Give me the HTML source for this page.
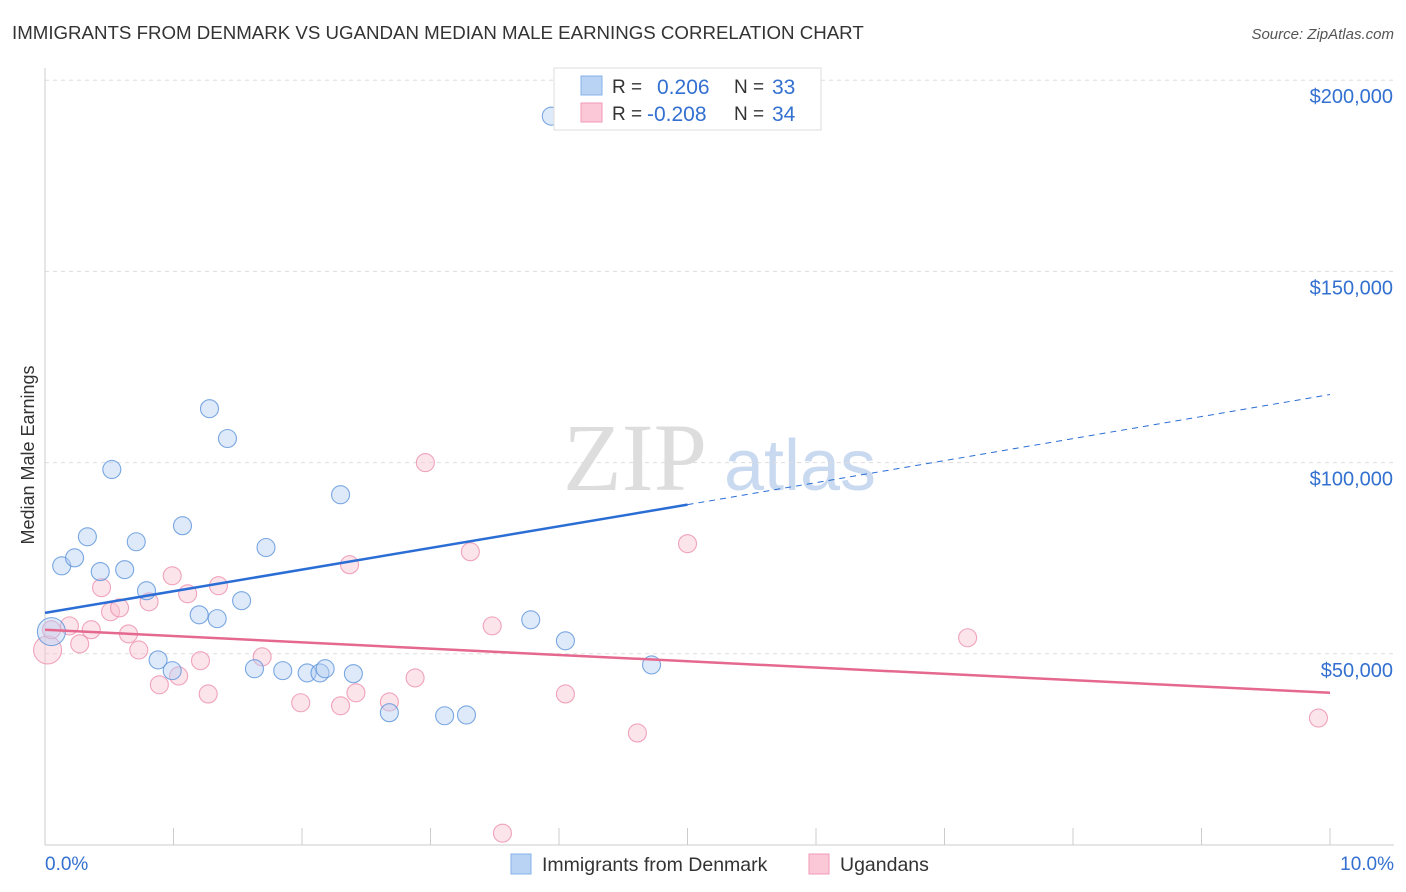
<!DOCTYPE html>
<html><head><meta charset="utf-8">
<style>
body{margin:0;background:#fff;font-family:"Liberation Sans",sans-serif;}
svg{display:block}
</style></head>
<body>
<svg id="chart" width="1406" height="892">
<text x="12" y="39" font-size="18.7" fill="#333">IMMIGRANTS FROM DENMARK VS UGANDAN MEDIAN MALE EARNINGS CORRELATION CHART</text>
<text x="1394" y="39" font-size="15" fill="#555" font-style="italic" text-anchor="end">Source: ZipAtlas.com</text>
<text transform="translate(34,455) rotate(-90)" font-size="18" fill="#333" text-anchor="middle">Median Male Earnings</text>
<g>
<text x="635" y="490" font-size="96" font-family="Liberation Serif,serif" fill="#ddd" text-anchor="middle">ZIP</text>
<text x="800" y="490" font-size="72" fill="#c9daf0" text-anchor="middle">atlas</text>
</g>
<g id="grid"></g>
<g id="axes"></g>
<g id="marks"></g>
<g id="trend"></g>
<g>
<rect x="554" y="68" width="267" height="62" fill="#fff" stroke="#ddd"/>
<rect x="581" y="76" width="21" height="19" fill="#b9d3f4" stroke="#86b1e8"/>
<rect x="581" y="103" width="21" height="19" fill="#fbc8d8" stroke="#f09ab6"/>
<text x="612" y="93" font-size="19" fill="#333">R =</text>
<text x="657" y="94" font-size="21" fill="#3370d0">0.206</text>
<text x="734" y="93" font-size="19" fill="#333">N =</text>
<text x="772" y="94" font-size="21" fill="#3370d0">33</text>
<text x="612" y="120" font-size="19" fill="#333">R =</text>
<text x="647" y="121" font-size="21" fill="#3370d0">-0.208</text>
<text x="734" y="120" font-size="19" fill="#333">N =</text>
<text x="772" y="121" font-size="21" fill="#3370d0">34</text>
</g>
<g>
<rect x="511" y="854" width="20" height="20" fill="#b9d3f4" stroke="#86b1e8"/>
<text x="542" y="871" font-size="19.5" fill="#333">Immigrants from Denmark</text>
<rect x="809" y="854" width="20" height="20" fill="#fbc8d8" stroke="#f09ab6"/>
<text x="840" y="871" font-size="19.5" fill="#333">Ugandans</text>
</g>
</svg>
<script>
const xTicks=[0,1,2,3,4,5,6,7,8,9,10];
const yTicks=[50000,100000,150000,200000];
const yTickLabels=["$50,000","$100,000","$150,000","$200,000"];
const blueX=[0.05,0.13,0.23,0.33,0.43,0.52,0.62,0.71,0.79,0.88,0.99,1.07,1.20,1.28,1.34,1.42,1.53,1.63,1.72,1.85,2.04,2.14,2.18,2.30,2.40,2.68,3.11,3.28,3.78,3.94,4.05,4.72,5.00];
const blueY=[55800,73000,75100,80600,71500,98200,72000,79300,66500,48400,45600,83500,60200,114100,59200,106300,63900,46100,77800,45600,45000,45000,46100,91600,44800,34600,33800,34000,58900,190600,53400,47100,196300];
const pinkX=[0.02,0.05,0.19,0.27,0.36,0.44,0.51,0.58,0.65,0.73,0.81,0.89,0.99,1.04,1.11,1.21,1.27,1.35,1.69,1.99,2.30,2.37,2.42,2.68,2.88,2.96,3.31,3.48,3.56,4.05,4.61,5.00,7.18,9.91];
const pinkY=[51000,56300,57300,52600,56300,67300,61000,62000,55200,51000,63600,41900,70400,44200,65700,48200,39500,67800,49200,37200,36400,73300,39800,37400,43700,100000,76700,57300,3100,39500,29300,78800,54200,33200];
const blueTrend=[60700,89000,117800]; // at x=0,5,10
const pinkTrend=[56300,39800]; // at x=0,10
const NS="http://www.w3.org/2000/svg";
const X=v=>45+v*128.5;
const Y=v=>845-v*191.2/50000;
function mk(tag,attrs,parent){const e=document.createElementNS(NS,tag);for(const k in attrs)e.setAttribute(k,attrs[k]);document.getElementById(parent).appendChild(e);return e;}
yTicks.forEach((t,i)=>{
 const l=mk('line',{x1:45,x2:1394,y1:Y(t),y2:Y(t),stroke:'#ddd','stroke-dasharray':'4,4'},'grid');
 
 
 const tx=mk('text',{x:1393,y:Y(t)+23,'font-size':20,fill:'#3370d0','text-anchor':'end'},'grid');
 tx.textContent=yTickLabels[i];
 
 
});
const ax=mk('line',{x1:45,x2:45,y1:68,y2:845,stroke:'#ccc'},'axes');


const bx=mk('line',{x1:45,x2:1394,y1:845,y2:845,stroke:'#ccc'},'axes');


xTicks.forEach(t=>{
 const l=mk('line',{x1:X(t),x2:X(t),y1:828,y2:845,stroke:'#ccc'},'axes');
 
 
});
const xl0=mk('text',{x:45,y:870,'font-size':19,fill:'#3370d0'},'axes');xl0.textContent=xTicks[0].toFixed(1)+'%';


const xl1=mk('text',{x:1394,y:870,'font-size':19,fill:'#3370d0','text-anchor':'end'},'axes');xl1.textContent=xTicks[10].toFixed(1)+'%';


function pts(xs,ys,fill,stroke,name){
 xs.forEach((x,i)=>{
  const r=i===0?14:9;
  const c=mk('circle',{cx:X(x),cy:Y(ys[i]),r:r,fill:fill,'fill-opacity':0.45,stroke:stroke,'stroke-opacity':0.8,'stroke-width':1.1},'marks');
  
  
 });
}
pts(pinkX,pinkY,'#f8c3d3','#ec8fae','ugandan-point');
pts(blueX,blueY,'#b5cff2','#5b93db','denmark-point');
const b1=mk('line',{x1:X(0),y1:Y(blueTrend[0]),x2:X(5),y2:Y(blueTrend[1]),stroke:'#2a6dd4','stroke-width':2.5},'trend');


const b2=mk('line',{x1:X(5),y1:Y(blueTrend[1]),x2:X(10),y2:Y(blueTrend[2]),stroke:'#2a6dd4','stroke-width':1,'stroke-dasharray':'6,5'},'trend');


const p1=mk('line',{x1:X(0),y1:Y(pinkTrend[0]),x2:X(10),y2:Y(pinkTrend[1]),stroke:'#e5688f','stroke-width':2.5},'trend');


</script>
</body></html>
